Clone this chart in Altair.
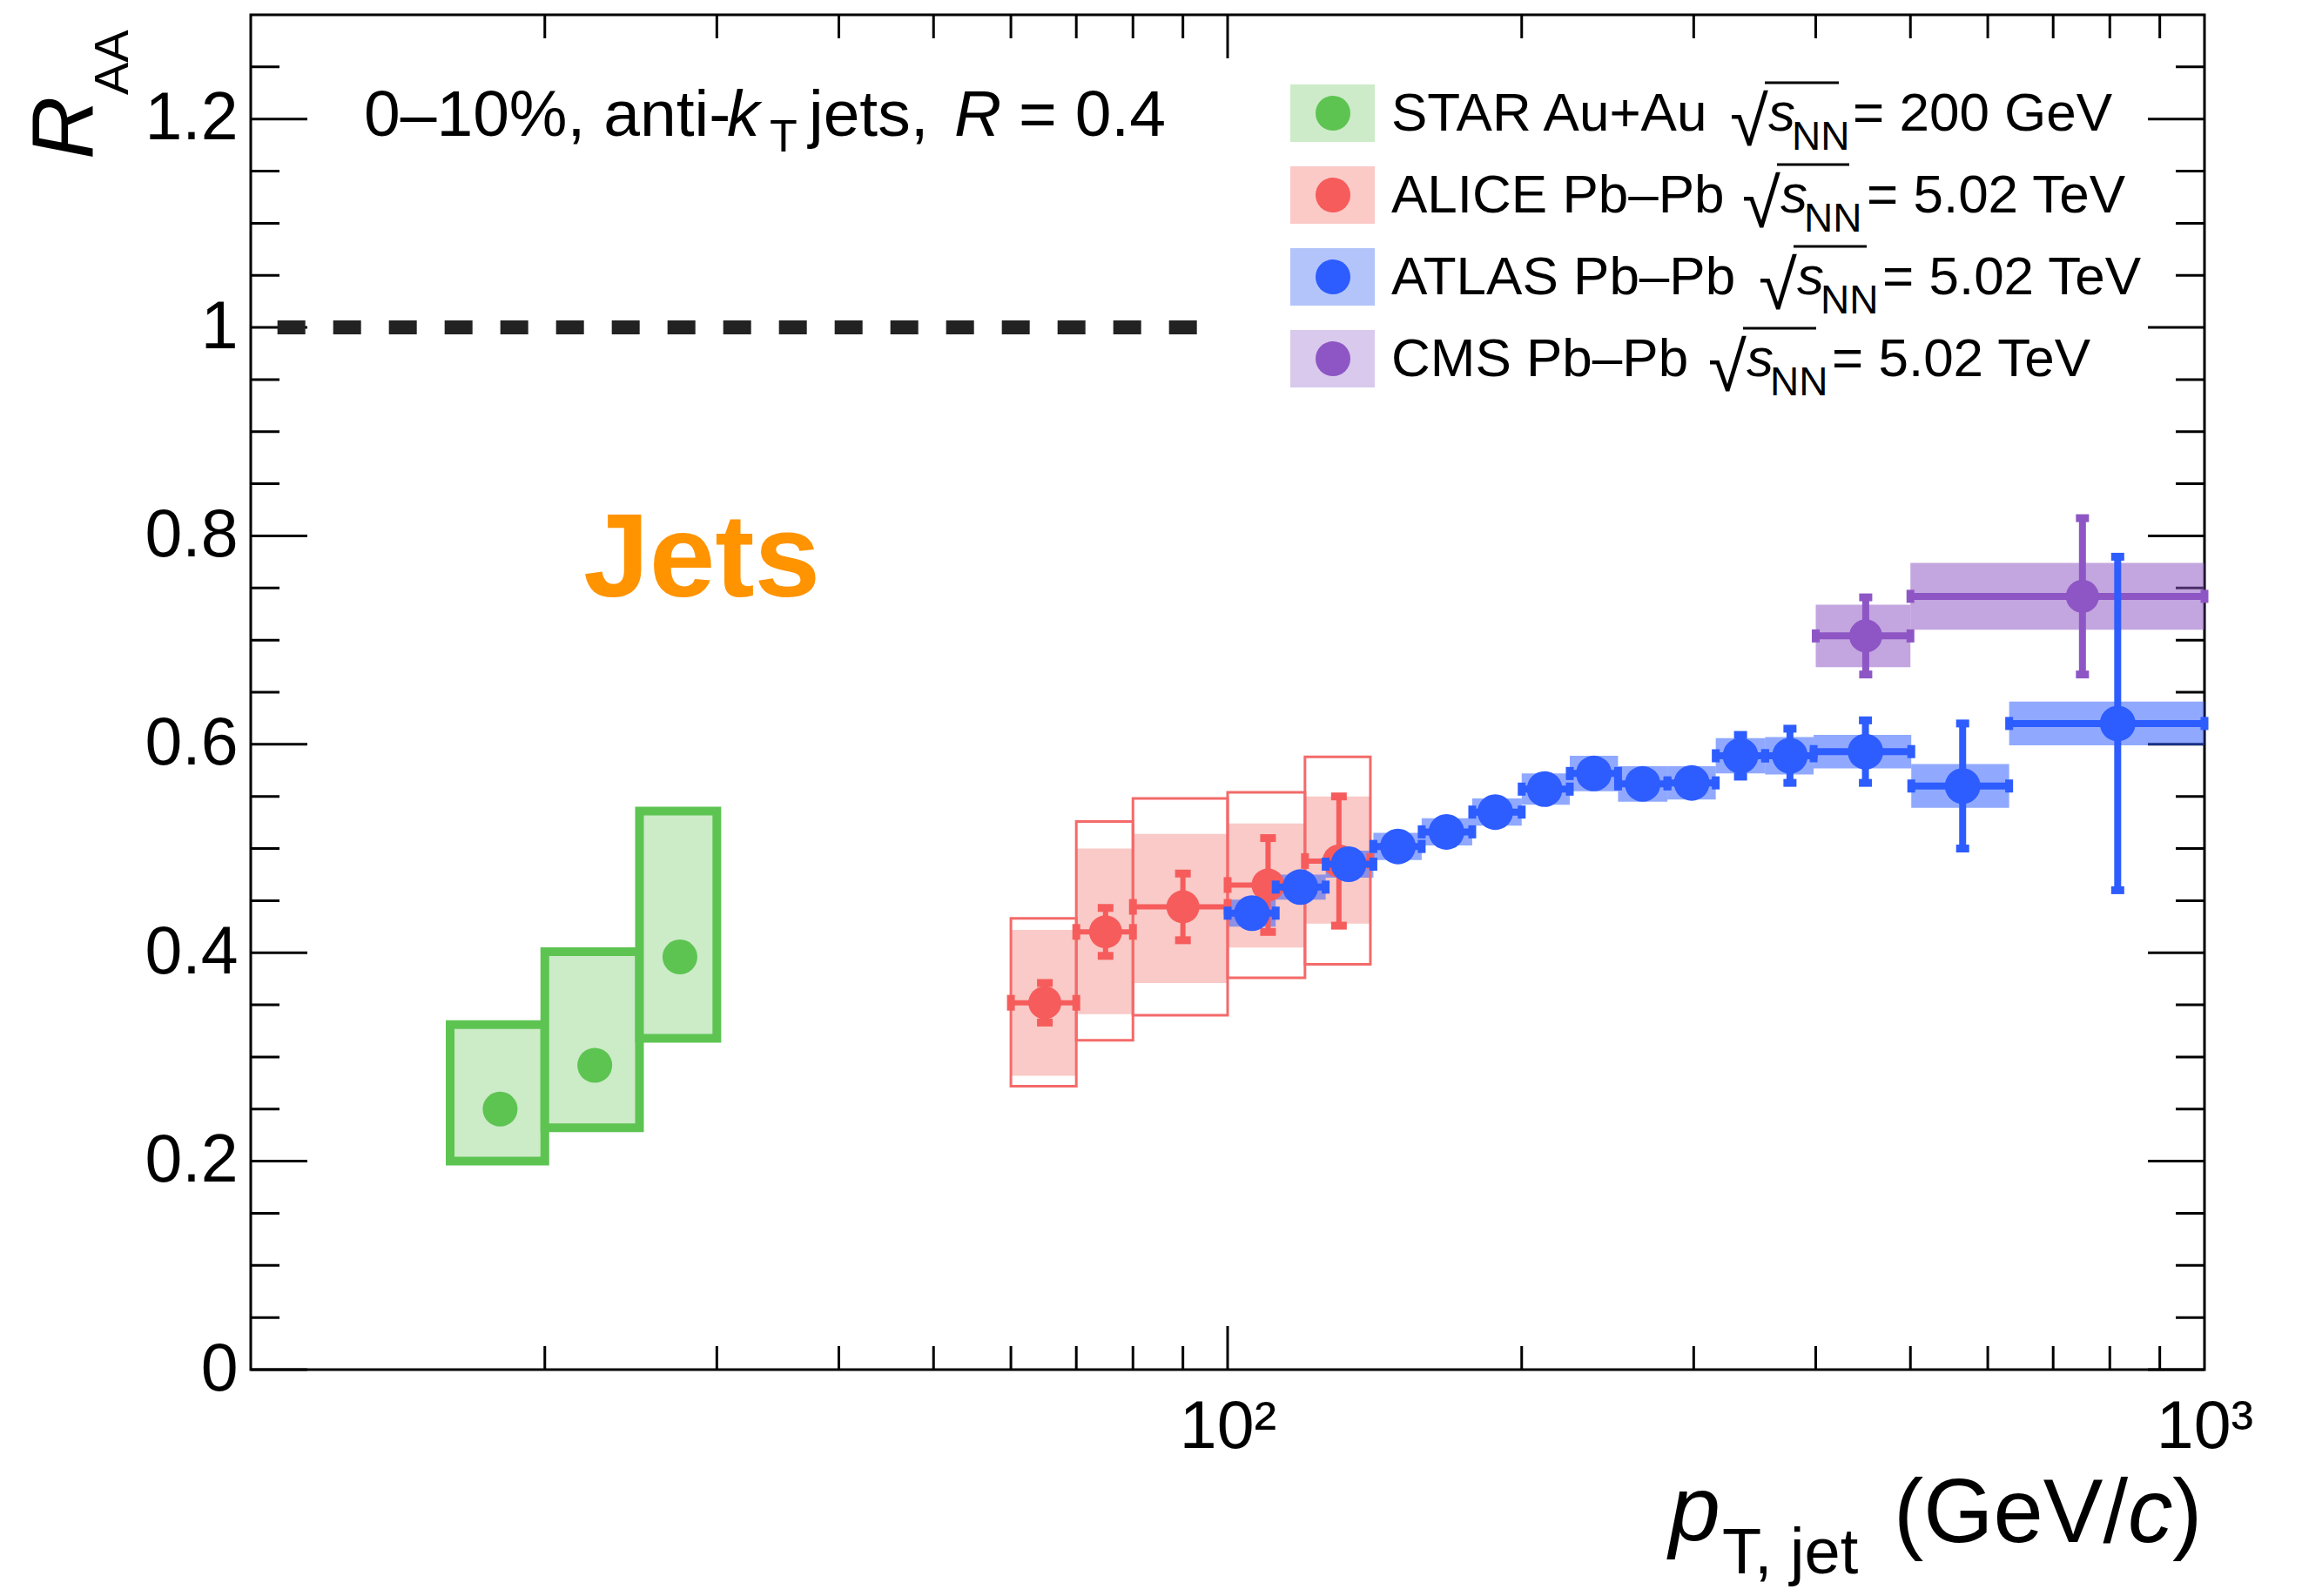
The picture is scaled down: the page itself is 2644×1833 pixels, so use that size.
import altair as alt
import pandas as pd

FONT = "Liberation Sans"
W, H = 2244, 1556

# ---------------- data ----------------
# STAR Au+Au 200 GeV
star_x = [18, 22.5, 27.5]
star_lo = [16, 20, 25]
star_hi = [20, 25, 30]
star_y = [0.250, 0.292, 0.396]
star_sys_lo = [0.200, 0.232, 0.318]
star_sys_hi = [0.331, 0.401, 0.536]

# ALICE Pb-Pb 5.02 TeV
alice_x = [65, 75, 90, 110, 130]
alice_lo = [60, 70, 80, 100, 120]
alice_hi = [70, 80, 100, 120, 140]
alice_y = [0.352, 0.420, 0.444, 0.465, 0.488]
alice_stat = [0.019, 0.023, 0.032, 0.045, 0.062]
alice_fill_lo = [0.282, 0.341, 0.371, 0.405, 0.428]
alice_fill_hi = [0.422, 0.500, 0.514, 0.524, 0.550]
alice_box_lo = [0.272, 0.316, 0.340, 0.376, 0.389]
alice_box_hi = [0.433, 0.526, 0.548, 0.554, 0.588]

# ATLAS Pb-Pb 5.02 TeV
atlas_lo = [100, 112, 126, 141, 158, 178, 200, 224, 251, 282, 316, 355, 398, 501, 631]
atlas_hi = [112, 126, 141, 158, 178, 200, 224, 251, 282, 316, 355, 398, 501, 631, 1000]
atlas_x = [105.9, 118.7, 133.0, 149.4, 167.5, 187.9, 211.1, 237.1, 266.0, 298.6, 335.0, 376.4, 449.7, 565.5, 815.0]
atlas_y = [0.438, 0.463, 0.485, 0.502, 0.516, 0.535, 0.557, 0.572, 0.562, 0.563, 0.589, 0.589, 0.593, 0.560, 0.620]
atlas_stat = [0.008, 0.008, 0.008, 0.008, 0.008, 0.008, 0.008, 0.008, 0.008, 0.008, 0.020, 0.026, 0.030, 0.060, 0.160]
atlas_sys = [0.013, 0.012, 0.013, 0.013, 0.013, 0.013, 0.015, 0.017, 0.017, 0.016, 0.017, 0.018, 0.016, 0.021, 0.021]

# CMS Pb-Pb 5.02 TeV
cms_x = [450, 750]
cms_lo = [400, 500]
cms_hi = [500, 1000]
cms_y = [0.704, 0.742]
cms_stat = [0.037, 0.075]
cms_sys = [0.030, 0.032]

# reference line at R_AA = 1
unity_x = [10.65]
unity_x2 = [93.3]
unity_y = [1.0]

# axis ticks
y_major = [0.0, 0.2, 0.4, 0.6, 0.8, 1.0, 1.2]
y_minor = [0.05, 0.1, 0.15, 0.25, 0.3, 0.35, 0.45, 0.5, 0.55, 0.65, 0.7, 0.75,
           0.85, 0.9, 0.95, 1.05, 1.1, 1.15, 1.25]
x_major = [100]
x_minor = [20, 30, 40, 50, 60, 70, 80, 90, 200, 300, 400, 500, 600, 700, 800, 900]

# legend
leg_labels = ["STAR Au+Au", "ALICE Pb\u2013Pb", "ATLAS Pb\u2013Pb", "CMS Pb\u2013Pb"]
leg_values = ["= 200 GeV", "= 5.02 TeV", "= 5.02 TeV", "= 5.02 TeV"]

# ---------------- styles ----------------
STAR_C, STAR_F = "#5DC452", "#CCEBC7"
ALICE_C, ALICE_F, ALICE_O = "#F65C5C", "#F9CAC7", "#F46A6A"
ATLAS_C = "#2D5CFF"
CMS_C = "#8E56C5"
SWATCH = ["#CDEBC8", "#FBCAC7", "#B3C4FB", "#D9C9EC"]
DOTS = [STAR_C, ALICE_C, ATLAS_C, CMS_C]

XS = alt.Scale(type="log", domain=[10, 1000], nice=False)
YS = alt.Scale(domain=[0, 1.3], nice=False, zero=False)
X_AX = alt.Axis(values=[100, 1000], labelExpr="datum.value == 100 ? '10\u00b2' : '10\u00b3'",
                labelFont=FONT, labelFontSize=77, labelColor="black", labelPadding=28,
                ticks=False, tickSize=0, domain=False, grid=False, title=None,
                labelFlush=False, labelOverlap=False)
Y_AX = alt.Axis(values=y_major, format="~g", labelFont=FONT, labelFontSize=77,
                labelColor="black", labelPadding=15, ticks=False, tickSize=0,
                domain=False, grid=False, title=None, labelFlush=False, labelOverlap=False)


def X(f):
    return alt.X(f + ":Q", scale=XS, axis=X_AX)


def Y(f):
    return alt.Y(f + ":Q", scale=YS, axis=Y_AX)


HCAP = "M-1,-0.5L1,-0.5L1,0.5L-1,0.5Z"
VCAP = "M-0.5,-1L0.5,-1L0.5,1L-0.5,1Z"

dummy = pd.DataFrame({"d": [0]})
layers = []

# ---------------- frame ticks ----------------
ymaj = pd.DataFrame({"v": y_major})
ymin = pd.DataFrame({"v": y_minor})
xmaj = pd.DataFrame({"v": x_major})
xmin = pd.DataFrame({"v": x_minor})
TK = dict(color="black", strokeWidth=3)
layers += [
    alt.Chart(ymaj).mark_rule(**TK).encode(y=Y("v"), x=alt.value(0), x2=alt.value(65)),
    alt.Chart(ymin).mark_rule(**TK).encode(y=Y("v"), x=alt.value(0), x2=alt.value(33)),
    alt.Chart(ymaj).mark_rule(**TK).encode(y=Y("v"), x=alt.value(W), x2=alt.value(W - 65)),
    alt.Chart(ymin).mark_rule(**TK).encode(y=Y("v"), x=alt.value(W), x2=alt.value(W - 33)),
    alt.Chart(xmaj).mark_rule(**TK).encode(x=X("v"), y=alt.value(H), y2=alt.value(H - 50)),
    alt.Chart(xmin).mark_rule(**TK).encode(x=X("v"), y=alt.value(H), y2=alt.value(H - 27)),
    alt.Chart(xmaj).mark_rule(**TK).encode(x=X("v"), y=alt.value(0), y2=alt.value(50)),
    alt.Chart(xmin).mark_rule(**TK).encode(x=X("v"), y=alt.value(0), y2=alt.value(27)),
]

# dashed line at 1
unity = pd.DataFrame({"x": unity_x, "x2": unity_x2, "y": unity_y})
layers.append(alt.Chart(unity).mark_rule(color="#222222", strokeWidth=16, strokeDash=[32, 32], strokeCap="butt")
              .encode(x=X("x"), x2="x2:Q", y=Y("y")))

# ---------------- STAR ----------------
star = pd.DataFrame({"x": star_x, "lo": star_lo, "hi": star_hi, "y": star_y,
                     "slo": star_sys_lo, "shi": star_sys_hi})
layers.append(alt.Chart(star).mark_rect(fill=STAR_F, stroke=STAR_C, strokeWidth=10)
              .encode(x=X("lo"), x2="hi:Q", y=Y("slo"), y2="shi:Q"))
layers.append(alt.Chart(star).mark_circle(color=STAR_C, size=1600, opacity=1)
              .encode(x=X("x"), y=Y("y")))

# ---------------- boxes ----------------
alice = pd.DataFrame({"x": alice_x, "lo": alice_lo, "hi": alice_hi, "y": alice_y,
                      "ylo": [a - b for a, b in zip(alice_y, alice_stat)],
                      "yhi": [a + b for a, b in zip(alice_y, alice_stat)],
                      "flo": alice_fill_lo, "fhi": alice_fill_hi,
                      "blo": alice_box_lo, "bhi": alice_box_hi})
atlas = pd.DataFrame({"x": atlas_x, "lo": atlas_lo, "hi": atlas_hi, "y": atlas_y,
                      "ylo": [a - b for a, b in zip(atlas_y, atlas_stat)],
                      "yhi": [a + b for a, b in zip(atlas_y, atlas_stat)],
                      "slo": [a - b for a, b in zip(atlas_y, atlas_sys)],
                      "shi": [a + b for a, b in zip(atlas_y, atlas_sys)]})
cms = pd.DataFrame({"x": cms_x, "lo": cms_lo, "hi": cms_hi, "y": cms_y,
                    "ylo": [a - b for a, b in zip(cms_y, cms_stat)],
                    "yhi": [a + b for a, b in zip(cms_y, cms_stat)],
                    "slo": [a - b for a, b in zip(cms_y, cms_sys)],
                    "shi": [a + b for a, b in zip(cms_y, cms_sys)]})

layers.append(alt.Chart(alice).mark_rect(fill=ALICE_F, strokeWidth=0)
              .encode(x=X("lo"), x2="hi:Q", y=Y("flo"), y2="fhi:Q"))
layers.append(alt.Chart(cms).mark_rect(fill=CMS_C, opacity=0.53, strokeWidth=0)
              .encode(x=X("lo"), x2="hi:Q", y=Y("slo"), y2="shi:Q"))
layers.append(alt.Chart(atlas).mark_rect(fill=ATLAS_C, opacity=0.53, strokeWidth=0)
              .encode(x=X("lo"), x2="hi:Q", y=Y("slo"), y2="shi:Q"))
layers.append(alt.Chart(alice).mark_rect(fillOpacity=0, stroke=ALICE_O, strokeWidth=3)
              .encode(x=X("lo"), x2="hi:Q", y=Y("blo"), y2="bhi:Q"))


def points(df, c, bw, capw, caph, dot):
    out = []
    out.append(alt.Chart(df).mark_rule(color=c, strokeWidth=bw).encode(x=X("lo"), x2="hi:Q", y=Y("y")))
    out.append(alt.Chart(df).mark_rule(color=c, strokeWidth=bw).encode(x=X("x"), y=Y("ylo"), y2="yhi:Q"))
    hc = HCAP.replace("0.5", str(round(caph / capw, 3)))
    vc = VCAP.replace("0.5", str(round(caph / capw, 3)))
    for f in ["ylo", "yhi"]:
        out.append(alt.Chart(df).mark_point(shape=hc, size=capw * capw, filled=True, color=c,
                                            opacity=1, strokeWidth=0).encode(x=X("x"), y=Y(f)))
    for f in ["lo", "hi"]:
        out.append(alt.Chart(df).mark_point(shape=vc, size=capw * capw, filled=True, color=c,
                                            opacity=1, strokeWidth=0).encode(x=X(f), y=Y("y")))
    out.append(alt.Chart(df).mark_circle(color=c, size=dot, opacity=1).encode(x=X("x"), y=Y("y")))
    return out


layers += points(alice, ALICE_C, 6, 18, 9, 1444)
layers += points(cms, CMS_C, 8, 15, 9, 1444)
layers += points(atlas, ATLAS_C, 8, 15, 9, 1680)


# ---------------- text helpers ----------------
def txt(s, x, y, size, style="normal", weight="normal", color="black", angle=0):
    return alt.Chart(dummy).mark_text(text=s, align="left", baseline="alphabetic", font=FONT,
                                      fontSize=size, fontStyle=style, fontWeight=weight,
                                      color=color, angle=angle).encode(x=alt.value(x), y=alt.value(y))


def line(x1, y1, x2, y2, w=3, c="black"):
    return alt.Chart(dummy).mark_rule(color=c, strokeWidth=w).encode(
        x=alt.value(x1), y=alt.value(y1), x2=alt.value(x2), y2=alt.value(y2))


# annotation
layers += [
    txt("0\u201310%, anti-", 130, 139, 75),
    txt("k", 547, 139, 75, style="italic"),
    txt("T", 596, 157, 52),
    txt("jets,", 641, 139, 75),
    txt("R", 808, 139, 75, style="italic"),
    txt("= 0.4", 882, 139, 75),
    txt("Jets", 382, 668, 136, weight="bold", color="#FF9300"),
]

# axis titles
layers += [
    txt("R", -181, 166, 100, style="italic", angle=270),
    txt("AA", -141, 92, 56, angle=270),
    txt("p", 1629, 1752, 106, style="italic"),
    txt("T, jet", 1690, 1790, 74),
    txt("(GeV/", 1887, 1754, 103),
    txt("c", 2156, 1754, 103, style="italic"),
    txt(")", 2207, 1754, 103),
]

# legend
base = [133, 227, 321, 415]
sqrt_x = [1699, 1713, 1732, 1674]
eq_x = [1840, 1856, 1874, 1816]
ol_end = [1822, 1834, 1854, 1796]
for i in range(4):
    b = base[i]
    cy = b - 20
    layers.append(alt.Chart(dummy).mark_rect(color=SWATCH[i]).encode(
        x=alt.value(1194), x2=alt.value(1291), y=alt.value(cy - 33), y2=alt.value(cy + 33)))
    layers.append(alt.Chart(dummy).mark_circle(color=DOTS[i], size=1600, opacity=1).encode(
        x=alt.value(1243), y=alt.value(cy)))
    layers.append(txt(leg_labels[i], 1310, b, 62))
    layers.append(txt("\u221a", sqrt_x[i], b + 17, 80))
    layers.append(line(sqrt_x[i] + 40, b - 55, ol_end[i] + 2, b - 55, w=3))
    layers.append(txt("s", sqrt_x[i] + 44, b, 62, style="italic"))
    layers.append(txt("NN", sqrt_x[i] + 71, b + 22, 46))
    layers.append(txt(leg_values[i], eq_x[i], b, 62))

chart = alt.layer(*layers).properties(
    width=W, height=H,
    padding={"left": 280, "top": 9, "right": 104, "bottom": 252},
    autosize=alt.AutoSizeParams(type="none"),
).configure_view(stroke="black", strokeWidth=3)

chart.save("out.html", embed_options={"renderer": "svg", "actions": False})
